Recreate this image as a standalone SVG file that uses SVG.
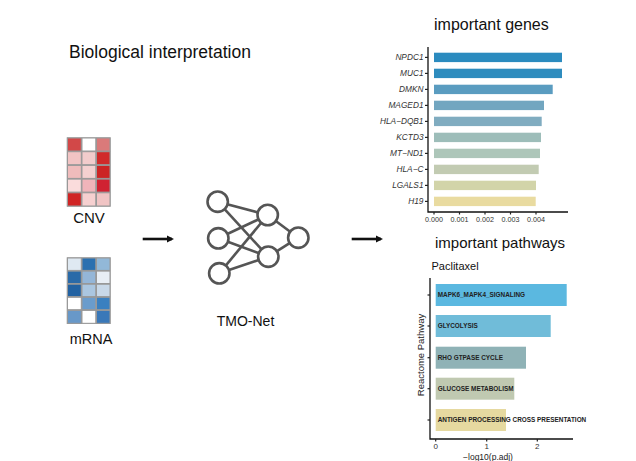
<svg xmlns="http://www.w3.org/2000/svg" width="636" height="461" viewBox="0 0 636 461">
<defs>
<style>
text{font-family:"Liberation Sans",Arial,sans-serif;fill:#111}
.title{font-size:16px}
.lbl{font-size:15px}
.gene{font-size:8.3px;font-style:italic;fill:#333;text-anchor:end}
.tick{font-size:7.2px;fill:#333;text-anchor:middle}
.pw{font-size:6.4px;font-weight:bold;fill:#222}
.axis{stroke:#111;stroke-width:1.3;fill:none}
.tk{stroke:#222;stroke-width:1.2}
.nn circle{fill:#fff;stroke:#555;stroke-width:2.6}
.nnl{stroke:#555;stroke-width:2.6}
.cell{stroke:#999;stroke-width:1}
.arrow{stroke:#111;stroke-width:2.6;fill:none}
</style>
<marker id="ah" markerWidth="8" markerHeight="8" refX="5" refY="4" orient="auto" markerUnits="userSpaceOnUse">
<path d="M0,0.5 L7,4 L0,7.5 Z" fill="#111"/>
</marker>
</defs>
<rect width="636" height="461" fill="#fff"/>

<text x="69" y="57.5" style="font-size:17.5px">Biological interpretation</text>

<g id="cnv">
<rect x="66.7" y="137.3" width="44" height="69.4" fill="#999"/>
<g class="cell">
<rect x="67.5" y="138" width="13.8" height="13" fill="#d24848"/>
<rect x="82" y="138" width="13.8" height="13" fill="#ffffff"/>
<rect x="96.5" y="138" width="13.5" height="13" fill="#da7a7a"/>
<rect x="67.5" y="151.7" width="13.8" height="13" fill="#f2c4c4"/>
<rect x="82" y="151.7" width="13.8" height="13" fill="#f2cccc"/>
<rect x="96.5" y="151.7" width="13.5" height="13" fill="#d02a2a"/>
<rect x="67.5" y="165.4" width="13.8" height="13" fill="#f0bcbc"/>
<rect x="82" y="165.4" width="13.8" height="13" fill="#f4d0d0"/>
<rect x="96.5" y="165.4" width="13.5" height="13" fill="#cc2424"/>
<rect x="67.5" y="179.1" width="13.8" height="13" fill="#fadcdc"/>
<rect x="82" y="179.1" width="13.8" height="13" fill="#f0b4ba"/>
<rect x="96.5" y="179.1" width="13.5" height="13" fill="#d02232"/>
<rect x="67.5" y="192.8" width="13.8" height="13.2" fill="#d02424"/>
<rect x="82" y="192.8" width="13.8" height="13.2" fill="#f6d0d0"/>
<rect x="96.5" y="192.8" width="13.5" height="13.2" fill="#f0c4c4"/>
</g>
<text class="lbl" x="89" y="222.5" text-anchor="middle">CNV</text>
</g>

<g id="mrna">
<rect x="66.7" y="257.3" width="44" height="66.7" fill="#999"/>
<g class="cell">
<rect x="67.5" y="258" width="13.8" height="12.4" fill="#dfe9f2"/>
<rect x="82" y="258" width="13.8" height="12.4" fill="#2a70b0"/>
<rect x="96.5" y="258" width="13.5" height="12.4" fill="#92b8d8"/>
<rect x="67.5" y="271.1" width="13.8" height="12.4" fill="#2a6aa8"/>
<rect x="82" y="271.1" width="13.8" height="12.4" fill="#94b6d8"/>
<rect x="96.5" y="271.1" width="13.5" height="12.4" fill="#e8eef5"/>
<rect x="67.5" y="284.2" width="13.8" height="12.4" fill="#2262a2"/>
<rect x="82" y="284.2" width="13.8" height="12.4" fill="#aac6e0"/>
<rect x="96.5" y="284.2" width="13.5" height="12.4" fill="#c8d8e8"/>
<rect x="67.5" y="297.3" width="13.8" height="12.4" fill="#ffffff"/>
<rect x="82" y="297.3" width="13.8" height="12.4" fill="#6a9ccc"/>
<rect x="96.5" y="297.3" width="13.5" height="12.4" fill="#3a80c0"/>
<rect x="67.5" y="310.4" width="13.8" height="12.9" fill="#6898c8"/>
<rect x="82" y="310.4" width="13.8" height="12.9" fill="#ffffff"/>
<rect x="96.5" y="310.4" width="13.5" height="12.9" fill="#3a78b8"/>
</g>
<text class="lbl" x="91" y="343.5" text-anchor="middle" style="font-size:14.5px">mRNA</text>
</g>

<g id="connectors">
<line class="arrow" x1="142.7" y1="239" x2="172" y2="239" marker-end="url(#ah)"/>
<line class="arrow" x1="351.7" y1="239" x2="381" y2="239" marker-end="url(#ah)"/>
</g>

<g id="tmo-net" class="nn">
<g class="nnl">
<line x1="217.7" y1="201.7" x2="267.7" y2="215"/>
<line x1="217.7" y1="201.7" x2="268.3" y2="256.7"/>
<line x1="218.3" y1="238.3" x2="267.7" y2="215"/>
<line x1="218.3" y1="238.3" x2="268.3" y2="256.7"/>
<line x1="219.3" y1="273.3" x2="267.7" y2="215"/>
<line x1="219.3" y1="273.3" x2="268.3" y2="256.7"/>
<line x1="267.7" y1="215" x2="298.3" y2="237.7"/>
<line x1="268.3" y1="256.7" x2="298.3" y2="237.7"/>
</g>
<circle cx="217.7" cy="201.7" r="10.2"/>
<circle cx="218.3" cy="238.3" r="10.2"/>
<circle cx="219.3" cy="273.3" r="10.2"/>
<circle cx="267.7" cy="215" r="10.2"/>
<circle cx="268.3" cy="256.7" r="10.2"/>
<circle cx="298.3" cy="237.7" r="10.2"/>
<text x="245.5" y="326" text-anchor="middle" style="font-size:14px">TMO-Net</text>
</g>

<g id="important-genes">
<text class="title" x="434" y="30">important genes</text>
<g>
<rect x="434" y="52.7" width="128" height="9.4" fill="#2b8bbf"/>
<rect x="434" y="68.7" width="128" height="9.4" fill="#2e8cbe"/>
<rect x="434" y="84.7" width="118.7" height="9.4" fill="#5a9cc0"/>
<rect x="434" y="100.7" width="110" height="9.4" fill="#72a6c0"/>
<rect x="434" y="116.7" width="107.7" height="9.4" fill="#80acc0"/>
<rect x="434" y="132.7" width="107" height="9.4" fill="#9dbdb9"/>
<rect x="434" y="148.7" width="106" height="9.4" fill="#adc6b9"/>
<rect x="434" y="164.7" width="104.7" height="9.4" fill="#c2cbb2"/>
<rect x="434" y="180.7" width="102" height="9.4" fill="#d2d4a9"/>
<rect x="434" y="196.7" width="101.7" height="9.4" fill="#e9dba0"/>
</g>
<path class="axis" d="M428,47 V212 H568"/>
<g class="tk">
<line x1="425" y1="57.4" x2="428" y2="57.4"/>
<line x1="425" y1="73.4" x2="428" y2="73.4"/>
<line x1="425" y1="89.4" x2="428" y2="89.4"/>
<line x1="425" y1="105.4" x2="428" y2="105.4"/>
<line x1="425" y1="121.4" x2="428" y2="121.4"/>
<line x1="425" y1="137.4" x2="428" y2="137.4"/>
<line x1="425" y1="153.4" x2="428" y2="153.4"/>
<line x1="425" y1="169.4" x2="428" y2="169.4"/>
<line x1="425" y1="185.4" x2="428" y2="185.4"/>
<line x1="425" y1="201.4" x2="428" y2="201.4"/>
<line x1="434" y1="212" x2="434" y2="214.5"/>
<line x1="459.5" y1="212" x2="459.5" y2="214.5"/>
<line x1="485" y1="212" x2="485" y2="214.5"/>
<line x1="510.5" y1="212" x2="510.5" y2="214.5"/>
<line x1="536" y1="212" x2="536" y2="214.5"/>
</g>
<text class="gene" x="423.5" y="60.3">NPDC1</text>
<text class="gene" x="423.5" y="76.3">MUC1</text>
<text class="gene" x="423.5" y="92.3">DMKN</text>
<text class="gene" x="423.5" y="108.3">MAGED1</text>
<text class="gene" x="423.5" y="124.3">HLA−DQB1</text>
<text class="gene" x="423.5" y="140.3">KCTD3</text>
<text class="gene" x="423.5" y="156.3">MT−ND1</text>
<text class="gene" x="423.5" y="172.3">HLA−C</text>
<text class="gene" x="423.5" y="188.3">LGALS1</text>
<text class="gene" x="423.5" y="204.3">H19</text>
<text class="tick" x="434" y="221.5">0.000</text>
<text class="tick" x="459.5" y="221.5">0.001</text>
<text class="tick" x="485" y="221.5">0.002</text>
<text class="tick" x="510.5" y="221.5">0.003</text>
<text class="tick" x="536" y="221.5">0.004</text>
</g>

<g id="important-pathways">
<text class="title" x="435" y="247.5" style="font-size:15px">important pathways</text>
<text x="431.5" y="270" style="font-size:11px">Paclitaxel</text>
<rect x="435.7" y="284" width="131" height="22" fill="#5bb8e0"/>
<rect x="435.7" y="315" width="115" height="22" fill="#70bcd9"/>
<rect x="435.7" y="346.7" width="90.3" height="22" fill="#8fb2b6"/>
<rect x="435.7" y="377.7" width="78.6" height="22" fill="#c0c9b1"/>
<rect x="435.7" y="409" width="70.3" height="22" fill="#e6d9a0"/>
<path class="axis" d="M430,278 V439 H573"/>
<g class="tk">
<line x1="427.5" y1="295" x2="430" y2="295"/>
<line x1="427.5" y1="326" x2="430" y2="326"/>
<line x1="427.5" y1="357.7" x2="430" y2="357.7"/>
<line x1="427.5" y1="388.7" x2="430" y2="388.7"/>
<line x1="427.5" y1="420" x2="430" y2="420"/>
<line x1="435.7" y1="439" x2="435.7" y2="441.5"/>
<line x1="486.7" y1="439" x2="486.7" y2="441.5"/>
<line x1="537.3" y1="439" x2="537.3" y2="441.5"/>
</g>
<text class="pw" x="437.7" y="297.4">MAPK6_MAPK4_SIGNALING</text>
<text class="pw" x="437.7" y="328.4">GLYCOLYSIS</text>
<text class="pw" x="437.7" y="360.1">RHO GTPASE CYCLE</text>
<text class="pw" x="437.7" y="391.1">GLUCOSE METABOLISM</text>
<text class="pw" x="437.7" y="422.4">ANTIGEN PROCESSING CROSS PRESENTATION</text>
<text class="tick" x="435.7" y="449" style="font-size:8px">0</text>
<text class="tick" x="486.7" y="449" style="font-size:8px">1</text>
<text class="tick" x="537.3" y="449" style="font-size:8px">2</text>
<text x="488" y="460" text-anchor="middle" style="font-size:8.5px;fill:#222">−log10(p.adj)</text>
<text transform="translate(424,355) rotate(-90)" text-anchor="middle" style="font-size:9.5px;fill:#222">Reactome Pathway</text>
</g>
</svg>
